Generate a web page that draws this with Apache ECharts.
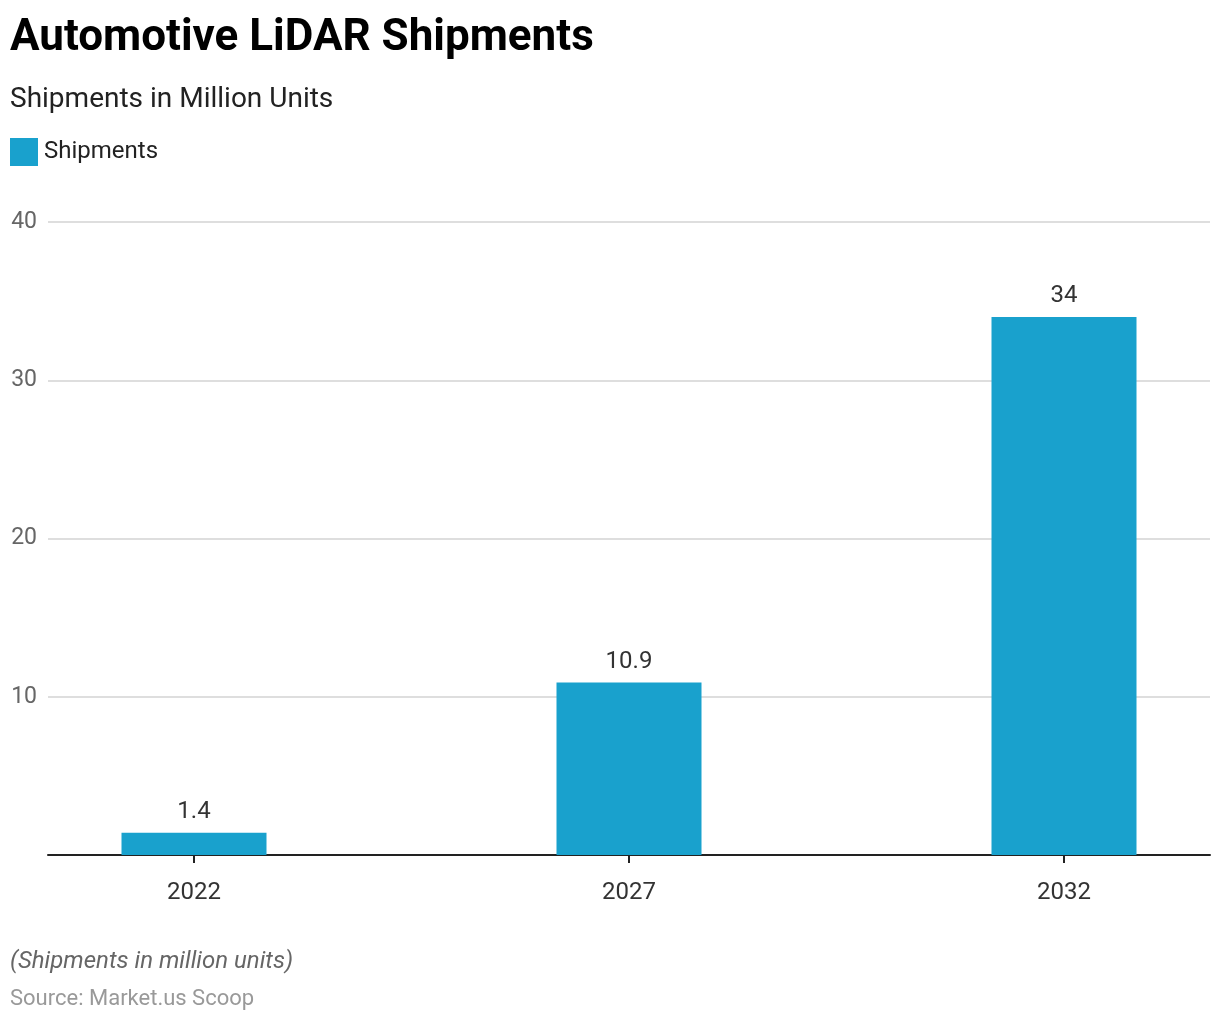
<!DOCTYPE html>
<html>
<head>
<meta charset="utf-8">
<script src="https://cdn.jsdelivr.net/npm/echarts@6/dist/echarts.min.js"></script>
<style>
html,body{margin:0;padding:0;background:#fff;}
#chart{width:1220px;height:1020px;}
</style>
</head>
<body>
<div id="chart"></div>
<script>
const categories = ['2022', '2027', '2032'];
const shipments = [1.4, 10.9, 34];
const yTicks = [0, 10, 20, 30, 40];

const years = categories.map(Number);
const chart = echarts.init(document.getElementById('chart'));
const font = 'Roboto, "Noto Sans", sans-serif';
chart.setOption({
  backgroundColor: '#ffffff',
  textStyle: { fontFamily: font },
  title: [
    { text: 'Automotive LiDAR Shipments', left: 10, top: 17, padding: 0,
      textStyle: { fontFamily: font, fontSize: 44, fontWeight: 'bold', color: '#000' } },
    { text: 'Shipments in Million Units', left: 10, top: 86, padding: 0,
      textStyle: { fontFamily: font, fontSize: 28, fontWeight: 'normal', color: '#222' } },
    { text: '(Shipments in million units)', left: 10, top: 950, padding: 0,
      textStyle: { fontFamily: font, fontSize: 24, fontStyle: 'italic', fontWeight: 'normal', color: '#666' } },
    { text: 'Source: Market.us Scoop', left: 10, top: 988, padding: 0,
      textStyle: { fontFamily: font, fontSize: 22, fontWeight: 'normal', color: '#999' } }
  ],
  legend: {
    left: 10, top: 138, padding: 0, itemWidth: 28, itemHeight: 28, itemGap: 10,
    icon: 'rect',
    textStyle: { fontFamily: font, fontSize: 24, color: '#222', padding: [4, 0, 0, 1] },
    data: ['Shipments']
  },
  grid: { left: 48, right: 10, top: 222, bottom: 165, containLabel: false },
  xAxis: {
    type: 'value',
    min: years[0] - 146 / 87,
    max: years[years.length - 1] + 146 / 87,
    splitLine: { show: false },
    axisLine: { show: true, lineStyle: { color: '#222', width: 2 } },
    axisTick: { show: true, customValues: years, length: 8, lineStyle: { color: '#222', width: 2 } },
    axisLabel: { customValues: years, formatter: v => String(v), fontFamily: font, fontSize: 24, color: '#333', margin: 26 }
  },
  yAxis: {
    type: 'value', min: yTicks[0], max: yTicks[yTicks.length - 1], interval: 10,
    axisLine: { show: false }, axisTick: { show: false },
    axisLabel: { showMinLabel: false, fontFamily: font, fontSize: 23, color: '#666', margin: 11, padding: [4, 0, 0, 0] },
    splitLine: { lineStyle: { color: '#d3d3d3', width: 1.5 } }
  },
  series: [{
    name: 'Shipments', type: 'bar', barWidth: 145,
    itemStyle: { color: '#19a1cd' },
    label: { show: true, position: 'top', distance: 9, fontFamily: font, fontSize: 24, color: '#333' },
    data: years.map((y, i) => [y, shipments[i]])
  }]
});
</script>
</body>
</html>
